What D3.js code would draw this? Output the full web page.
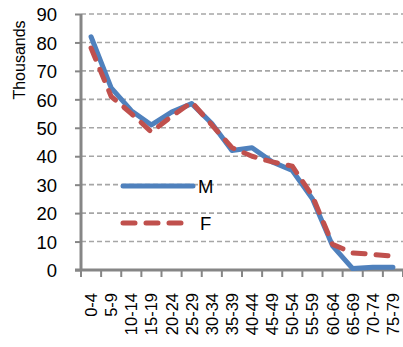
<!DOCTYPE html>
<html>
<head>
<meta charset="utf-8">
<script src="https://cdn.jsdelivr.net/npm/d3@7/dist/d3.min.js"></script>
<style>
  html, body { margin: 0; padding: 0; background: #fff; }
  svg { display: block; font-family: "Liberation Sans", Arial, sans-serif; }
</style>
</head>
<body>
<svg id="chart" width="403" height="347"></svg>
<script>
// Population by five-year age group, in thousands
const ageGroups = ["0-4","5-9","10-14","15-19","20-24","25-29","30-34","35-39",
                   "40-44","45-49","50-54","55-59","60-64","65-69","70-74","75-79"];
const male   = [82, 64, 56, 51, 55.5, 58.5, 51.5, 42, 43, 38, 35, 25, 8.5, 0.5, 1, 1];
const female = [78, 61, 55, 48.5, 54, 59, 51, 43, 40, 38, 36.5, 26, 9, 6, 5.5, 4.8];
const yTicks = [0, 10, 20, 30, 40, 50, 60, 70, 80, 90];

const svg = d3.select("#chart");
const plotLeft = 81, plotRight = 403, plotTop = 14, plotBottom = 270;
const axisColor = "#868686";
const blue = "#4f81bd", red = "#c0504d";

const x = d3.scaleBand().domain(ageGroups).range([plotLeft, plotRight]);
const y = d3.scaleLinear().domain([0, 90]).range([plotBottom, plotTop]);
const cx = d => x(d) + x.bandwidth() / 2;

// dashed horizontal gridlines
svg.append("g").selectAll("line")
  .data(yTicks.filter(t => t > 0))
  .join("line")
  .attr("x1", plotLeft).attr("x2", plotRight)
  .attr("y1", d => y(d)).attr("y2", d => y(d))
  .attr("stroke", "#a6a6a6").attr("stroke-width", 1.6)
  .attr("stroke-dasharray", "5,3");

// y axis
const yAxis = svg.append("g").attr("transform", `translate(${plotLeft},0)`)
  .call(d3.axisLeft(y).tickValues(yTicks).tickSize(6).tickPadding(0));
yAxis.select(".domain").remove();
yAxis.selectAll(".tick line").attr("stroke", axisColor).attr("stroke-width", 2);
yAxis.selectAll(".tick text")
  .attr("x", -24).attr("dy", "0.36em")
  .attr("font-size", 18.5).attr("fill", "#000")
  .attr("font-family", "'Liberation Sans', Arial, sans-serif");
svg.append("line")
  .attr("x1", plotLeft).attr("x2", plotLeft).attr("y1", plotTop).attr("y2", plotBottom)
  .attr("stroke", axisColor).attr("stroke-width", 3);

// x axis with ticks at category boundaries
const bounds = ageGroups.map(d => x(d)).concat([x.range()[1]]);
svg.append("g").selectAll("line")
  .data(bounds)
  .join("line")
  .attr("x1", d => d).attr("x2", d => d)
  .attr("y1", plotBottom).attr("y2", plotBottom + 7)
  .attr("stroke", axisColor).attr("stroke-width", 2);
svg.append("line")
  .attr("x1", plotLeft - 6).attr("x2", plotRight).attr("y1", plotBottom).attr("y2", plotBottom)
  .attr("stroke", axisColor).attr("stroke-width", 3);

svg.append("g").selectAll("text")
  .data(ageGroups)
  .join("text")
  .attr("transform", d => `translate(${cx(d)},${plotBottom + 23}) rotate(-90)`)
  .attr("text-anchor", "end")
  .attr("dy", "0.36em")
  .attr("font-size", 16.5)
  .attr("fill", "#000")
  .text(d => d);

// axis title
svg.append("text")
  .attr("transform", "translate(19,60) rotate(-90)")
  .attr("text-anchor", "middle")
  .attr("dy", "0.36em")
  .attr("font-size", 16)
  .attr("fill", "#000")
  .text("Thousands");

// series lines
const line = d3.line().x((d, i) => cx(ageGroups[i])).y(d => y(d));
svg.append("path").datum(male)
  .attr("d", line).attr("fill", "none")
  .attr("stroke", blue).attr("stroke-width", 5)
  .attr("stroke-linejoin", "round").attr("stroke-linecap", "round");
svg.append("path").datum(female)
  .attr("d", line).attr("fill", "none")
  .attr("stroke", red).attr("stroke-width", 5)
  .attr("stroke-linejoin", "round").attr("stroke-linecap", "round")
  .attr("stroke-dasharray", "12,11");

// legend
const legend = [
  { name: "M", color: blue, dash: null, y: 186, x2: 193, tx: 198 },
  { name: "F", color: red, dash: "12,11", y: 223, x2: 188, tx: 200 }
];
const lg = svg.append("g").selectAll("g").data(legend).join("g");
lg.append("line")
  .attr("x1", 123).attr("x2", d => d.x2)
  .attr("y1", d => d.y).attr("y2", d => d.y)
  .attr("stroke", d => d.color).attr("stroke-width", 5)
  .attr("stroke-linecap", "round")
  .attr("stroke-dasharray", d => d.dash);
lg.append("text")
  .attr("x", d => d.tx).attr("y", d => d.y)
  .attr("dy", "0.36em")
  .attr("font-size", 18.5)
  .attr("fill", "#000")
  .text(d => d.name);
</script>
</body>
</html>
